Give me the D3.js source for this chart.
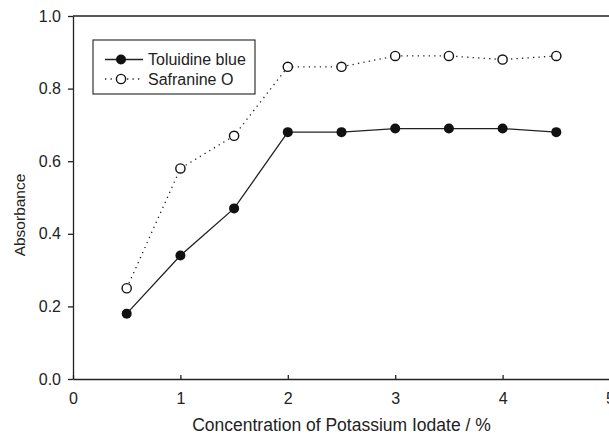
<!DOCTYPE html>
<html>
<head>
<meta charset="utf-8">
<script src="https://cdn.jsdelivr.net/npm/d3@7"></script>
<style>
    body { margin: 0; background: #fff; }
    text { font-family: "Liberation Sans", Arial, Helvetica, sans-serif; fill: #222; }
    .axis path, .axis line { stroke: #222; stroke-width: 1.3; }
    .axis text { font-size: 16px; }
</style>
</head>
<body>
<svg id="chart"></svg>
<script>
const concentration = [0.5, 1, 1.5, 2, 2.5, 3, 3.5, 4, 4.5];
const toluidineBlue = [0.18, 0.34, 0.47, 0.68, 0.68, 0.69, 0.69, 0.69, 0.68];
const safranineO = [0.25, 0.58, 0.67, 0.86, 0.86, 0.89, 0.89, 0.88, 0.89];
const xTicks = [0, 1, 2, 3, 4, 5];
const yTicks = [0, 0.2, 0.4, 0.6, 0.8, 1.0];

const W = 609, H = 435;
const margin = { top: 16, right: -1, bottom: 56, left: 73 };
const width = W - margin.left - margin.right;
const height = H - margin.top - margin.bottom;

const svg = d3.select("#chart")
    .attr("width", W)
    .attr("height", H)
    .append("g")
    .attr("transform", `translate(${margin.left},${margin.top})`);

const x = d3.scaleLinear().domain([0, 5]).range([0, width]);
const y = d3.scaleLinear().domain([0, 1]).range([height, 0]);

// Top frame line
svg.append("line")
    .attr("x1", 0).attr("x2", width)
    .attr("y1", 0).attr("y2", 0)
    .attr("stroke", "#222").attr("stroke-width", 1.3);

// X axis, ticks pointing inward
svg.append("g")
    .attr("class", "axis")
    .attr("transform", `translate(0,${height})`)
    .call(d3.axisBottom(x).tickValues(xTicks).tickFormat(d3.format("d"))
        .tickSizeInner(-4).tickSizeOuter(0).tickPadding(14));

// Y axis
svg.append("g")
    .attr("class", "axis")
    .call(d3.axisLeft(y).tickValues(yTicks).tickFormat(d3.format(".1f"))
        .tickSizeInner(5).tickSizeOuter(0).tickPadding(7));

// Axis titles
svg.append("text")
    .attr("x", width / 2)
    .attr("y", height + 52)
    .attr("text-anchor", "middle")
    .style("font-size", "17.5px")
    .text("Concentration of Potassium Iodate / %");

svg.append("text")
    .attr("transform", `translate(${25 - margin.left},${215 - margin.top}) rotate(-90)`)
    .attr("text-anchor", "middle")
    .style("font-size", "15.5px")
    .text("Absorbance");

const line = d3.line()
    .x((d, i) => x(concentration[i]))
    .y(d => y(d));

// Safranine O - dotted line, open circles
svg.append("path")
    .datum(safranineO)
    .attr("fill", "none")
    .attr("stroke", "#222")
    .attr("stroke-width", 1.3)
    .attr("stroke-dasharray", "1.3,4.2")
    .attr("d", line);

// Toluidine blue - solid line, filled circles
svg.append("path")
    .datum(toluidineBlue)
    .attr("fill", "none")
    .attr("stroke", "#222")
    .attr("stroke-width", 1.3)
    .attr("d", line);

svg.selectAll(".dot-tb")
    .data(toluidineBlue)
    .enter().append("circle")
    .attr("cx", (d, i) => x(concentration[i]))
    .attr("cy", d => y(d))
    .attr("r", 5)
    .attr("fill", "#111");

svg.selectAll(".dot-so")
    .data(safranineO)
    .enter().append("circle")
    .attr("cx", (d, i) => x(concentration[i]))
    .attr("cy", d => y(d))
    .attr("r", 4.6)
    .attr("fill", "#fff")
    .attr("stroke", "#111")
    .attr("stroke-width", 1.4);

// Legend
const legend = svg.append("g")
    .attr("transform", `translate(${93 - margin.left},${40 - margin.top})`);

legend.append("rect")
    .attr("width", 162)
    .attr("height", 54)
    .attr("fill", "#fff")
    .attr("stroke", "#222")
    .attr("stroke-width", 1.1);

const legendItems = [
    { name: "Toluidine blue", dash: null, fill: "#111" },
    { name: "Safranine O", dash: "1.3,4.2", fill: "#fff" }
];

legendItems.forEach((item, i) => {
    const yy = 19.5 + i * 19.5;
    legend.append("line")
        .attr("x1", 12).attr("x2", 50)
        .attr("y1", yy).attr("y2", yy)
        .attr("stroke", "#222")
        .attr("stroke-width", 1.3)
        .attr("stroke-dasharray", item.dash);
    legend.append("circle")
        .attr("cx", 28).attr("cy", yy)
        .attr("r", i === 0 ? 5 : 4.6)
        .attr("fill", item.fill)
        .attr("stroke", i === 0 ? "none" : "#111")
        .attr("stroke-width", 1.4);
    legend.append("text")
        .attr("x", 55)
        .attr("y", yy)
        .attr("dy", "0.35em")
        .style("font-size", "16px")
        .text(item.name);
});
</script>
</body>
</html>
